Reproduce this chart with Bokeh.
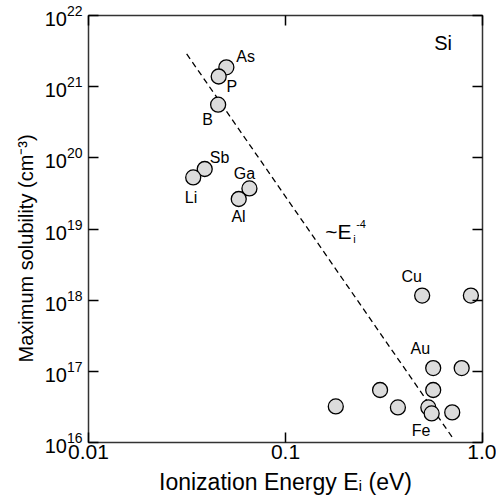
from bokeh.plotting import figure
from bokeh.models import (ColumnDataSource, LogAxis, FixedTicker, Range1d,
                          LogTickFormatter, CustomJSTickFormatter, Title)
from bokeh.core.properties import value
from bokeh.embed import file_html
from bokeh.resources import INLINE

# ---------------- data ----------------
energy = [0.0501, 0.0458, 0.0455, 0.0389, 0.0340, 0.0656, 0.0579,
          0.494, 0.873, 0.562, 0.784, 0.302, 0.562, 0.180, 0.372, 0.531, 0.552, 0.702]
solubility = [1.87e21, 1.39e21, 5.58e20, 6.97e19, 5.31e19, 3.72e19, 2.64e19,
              1.16e18, 1.16e18, 1.11e17, 1.11e17, 5.47e16, 5.47e16, 3.21e16, 3.11e16, 3.11e16, 2.56e16, 2.65e16]
names = ["As", "P", "B", "Sb", "Li", "Ga", "Al",
         "Cu", "", "Au", "", "", "", "", "", "", "Fe", ""]

fit_x = [0.0315, 0.70]
fit_y = [2.89e21, 1.2e16]

x_ticks = [0.01, 0.1, 1.0]
x_tick_labels = ["0.01", "0.1", "1.0"]
y_ticks = [1e16, 1e17, 1e18, 1e19, 1e20, 1e21, 1e22]

x_title = "Ionization Energy E\u1d62 (eV)"
y_title = "Maximum solubility (cm\u207b\u00b3)"

# label offsets in pixels (style)
dx = [10, 7.7, -16, 5, -8.4, -15.7, -7.3, -20.6, 0, -22.6, 0, 0, 0, 0, 0, 0, -20, 0]
dy = [-11.2, 9.8, 14.5, -11.3, 20.3, -15.2, 17.7, -19, 0, -19.3, 0, 0, 0, 0, 0, 0, 17.3, 0]

FONT = "Liberation Sans"

p = figure(width=496, height=499, x_axis_type="log", y_axis_type="log",
           x_range=Range1d(0.01, 1.0), y_range=Range1d(1e16, 1e22),
           output_backend="svg", toolbar_location=None,
           min_border_left=88, min_border_right=14, min_border_top=15, min_border_bottom=57)
p.background_fill_color = "white"
p.border_fill_color = "white"
p.grid.visible = False
p.outline_line_color = "#333333"
p.outline_line_width = 1.5

src = ColumnDataSource(dict(x=energy, y=solubility, name=names, dx=dx, dy=dy))

p.line(fit_x, fit_y, line_color="black", line_width=1.3, line_dash="6 4")
p.scatter("x", "y", source=src, size=15, fill_color="#dcdcdc", line_color="black", line_width=1.3)
p.text("x", "y", text="name", source=src, x_offset="dx", y_offset="dy",
       text_align="left", text_baseline="middle", text_font=value(FONT),
       text_font_size="16px", text_color="black")

# annotations
p.text(x=[0.569], y=[4.1e21], text=["Si"], text_font=value(FONT), text_font_size="20px",
       text_baseline="middle", text_align="left")
p.text(x=[0.159], y=[9.3e18], text=["~E"], text_font=value(FONT), text_font_size="21px",
       text_baseline="middle", text_align="left")
p.text(x=[0.159], y=[9.3e18], text=["i"], text_font=value(FONT), text_font_size="11px",
       text_baseline="middle", text_align="left", x_offset=28, y_offset=8)
p.text(x=[0.159], y=[9.3e18], text=["-4"], text_font=value(FONT), text_font_size="11px",
       text_baseline="middle", text_align="left", x_offset=31, y_offset=-7)

# axes
for ax in (p.xaxis[0], p.yaxis[0]):
    ax.axis_line_color = None
    ax.major_tick_in = 10
    ax.major_tick_out = 0
    ax.major_tick_line_color = "black"
    ax.major_tick_line_width = 1.5
    ax.minor_tick_line_color = None
    ax.major_label_text_font = FONT
    ax.major_label_text_color = "black"
    ax.axis_label_text_font = FONT
    ax.axis_label_text_font_style = "normal"
    ax.axis_label_text_color = "black"

p.xaxis[0].ticker = FixedTicker(ticks=x_ticks)
p.xaxis[0].major_label_overrides = dict(zip(x_ticks, x_tick_labels))
p.xaxis[0].major_label_text_font_size = "21px"
p.xaxis[0].axis_label = x_title
p.xaxis[0].axis_label_text_font_size = "23px"
p.xaxis[0].major_label_standoff = 2
p.xaxis[0].axis_label_standoff = 7

p.yaxis[0].ticker = FixedTicker(ticks=y_ticks)
p.yaxis[0].formatter = LogTickFormatter()
p.yaxis[0].major_label_text_font_size = "20px"
p.yaxis[0].major_label_standoff = 6

p.add_layout(Title(text=y_title, align="left", offset=80, text_font=FONT,
                   text_font_size="20px", text_font_style="normal", text_color="black",
                   standoff=10), "left")

top = LogAxis(ticker=FixedTicker(ticks=x_ticks), formatter=CustomJSTickFormatter(code="return ''"),
              axis_line_color=None, major_tick_in=10, major_tick_out=0,
              major_tick_line_width=1.5, minor_tick_line_color=None,
              major_label_standoff=0)
right = LogAxis(ticker=FixedTicker(ticks=y_ticks), formatter=CustomJSTickFormatter(code="return ''"),
                axis_line_color=None, major_tick_in=10, major_tick_out=0,
                major_tick_line_width=1.5, minor_tick_line_color=None,
                major_label_standoff=0)
p.add_layout(top, "above")
p.add_layout(right, "right")

open("out.html", "w").write(file_html(p, INLINE))
